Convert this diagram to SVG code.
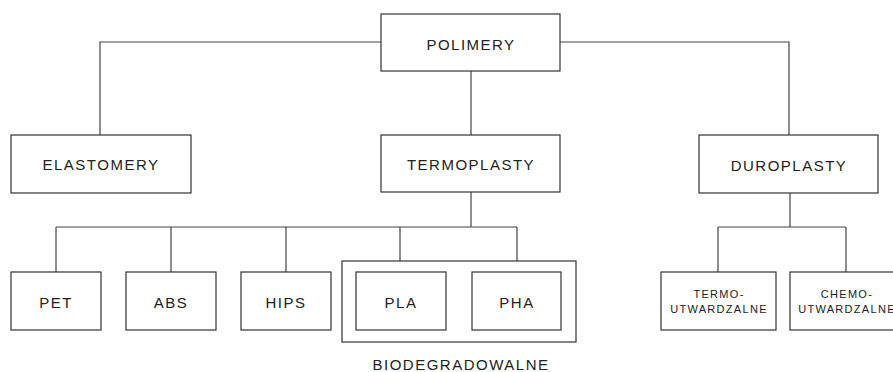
<svg xmlns="http://www.w3.org/2000/svg" width="893" height="372" viewBox="0 0 893 372">
<style>
.box{fill:#fff;stroke:#333;stroke-width:1.2}
.line{fill:none;stroke:#444;stroke-width:1.2}
.t{font-family:"Liberation Sans",Arial,sans-serif;font-size:15px;letter-spacing:1.5px;fill:#222;text-anchor:middle}
.s{font-family:"Liberation Sans",Arial,sans-serif;font-size:11px;letter-spacing:1.3px;fill:#222;text-anchor:middle}
</style>
<rect width="893" height="372" fill="#fff"/>
<g id="connectors">
<path class="line" d="M381 42H100V135M560 42H789V135M471 71V135"/>
<path class="line" d="M471 192V227M56 227H517M56 227V272M171 227V272M286 227V272M400 227V272M517 227V272"/>
<path class="line" d="M790 193V227M718 227H846M718 227V272M846 227V272"/>
</g>
<g id="biodegradowalne">
<rect class="box" x="342" y="261" width="234" height="81" fill="none"/>
<text class="t" x="461" y="370">BIODEGRADOWALNE</text>
</g>
<g id="polimery"><rect class="box" x="381" y="14" width="179" height="57"/><text class="t" x="471" y="50">POLIMERY</text></g>
<g id="elastomery"><rect class="box" x="11" y="135" width="180" height="58"/><text class="t" x="101" y="170">ELASTOMERY</text></g>
<g id="termoplasty"><rect class="box" x="381" y="135" width="179" height="57"/><text class="t" x="471" y="170">TERMOPLASTY</text></g>
<g id="duroplasty"><rect class="box" x="699" y="135" width="179" height="58"/><text class="t" x="789" y="171">DUROPLASTY</text></g>
<g id="pet"><rect class="box" x="11" y="272" width="90" height="58"/><text class="t" x="56" y="308">PET</text></g>
<g id="abs"><rect class="box" x="126" y="272" width="90" height="58"/><text class="t" x="171" y="308">ABS</text></g>
<g id="hips"><rect class="box" x="241" y="272" width="90" height="58"/><text class="t" x="286" y="308">HIPS</text></g>
<g id="pla"><rect class="box" x="356" y="272" width="90" height="58"/><text class="t" x="401" y="308">PLA</text></g>
<g id="pha"><rect class="box" x="472" y="272" width="89" height="58"/><text class="t" x="517" y="308">PHA</text></g>
<g id="termoutwardzalne"><rect class="box" x="661" y="272" width="115" height="58"/><text class="s" x="719" y="298">TERMO-</text><text class="s" x="719" y="313">UTWARDZALNE</text></g>
<g id="chemoutwardzalne"><rect class="box" x="790" y="272" width="115" height="58"/><text class="s" x="847" y="298">CHEMO-</text><text class="s" x="847" y="313">UTWARDZALNE</text></g>
</svg>
